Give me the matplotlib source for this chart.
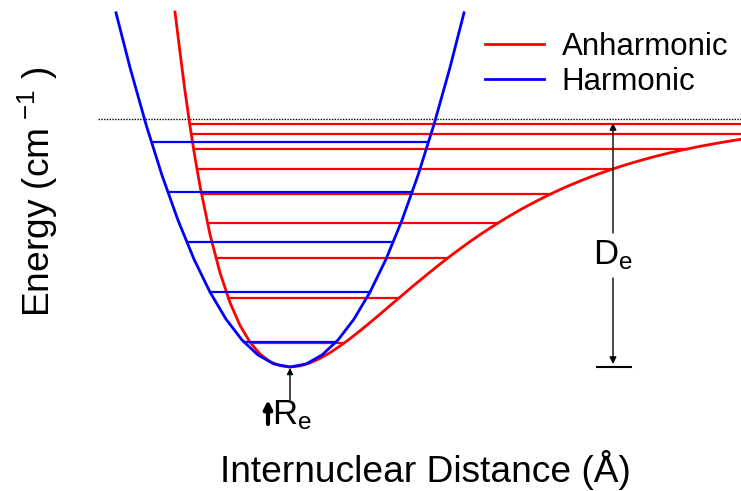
import numpy as np
import matplotlib
matplotlib.use("Agg")
import matplotlib.pyplot as plt

plt.rcParams['font.family'] = ['Liberation Sans', 'DejaVu Sans']
plt.rcParams['mathtext.fontset'] = 'custom'
plt.rcParams['mathtext.rm'] = 'Liberation Sans'
plt.rcParams['mathtext.it'] = 'Liberation Sans'

# ---- data (arbitrary units; minimum at r=290, E=0) ----
morse_r = [175, 180, 185, 190, 195, 200, 210, 220, 230, 240, 250, 260, 270, 280,
           290, 300, 310, 320, 330, 340, 350, 360, 370, 380, 390, 400, 410, 420,
           430, 440, 450, 460, 470, 480, 490, 500, 510, 520, 530, 540, 550, 560,
           570, 580, 590, 600, 610, 620, 630, 640, 650, 660, 670, 680, 690, 700,
           710, 720, 730, 741]
morse_E = [355.0, 314.8, 276.0, 241.0, 209.4, 180.9, 132.6, 94.3, 64.4, 41.6, 24.8,
           13.0, 5.4, 1.3, 0.0, 1.1, 4.1, 8.6, 14.3, 21.0, 28.3, 36.2, 44.4, 52.8,
           61.4, 69.9, 78.4, 86.7, 94.9, 102.9, 110.7, 118.1, 125.4, 132.3, 138.9,
           145.2, 151.3, 157.1, 162.5, 167.7, 172.7, 177.4, 181.8, 185.9, 189.9,
           193.6, 197.1, 200.4, 203.5, 206.4, 209.2, 211.8, 214.2, 216.5, 218.6,
           220.7, 222.5, 224.3, 226.0, 227.7]

harm_r = [116, 130, 146, 162, 178, 194, 210, 226, 242, 258, 274, 290, 306, 322,
          338, 354, 370, 386, 402, 418, 434, 450, 464]
harm_E = [354.2, 299.5, 242.6, 191.7, 146.8, 107.8, 74.9, 47.9, 27.0, 12.0, 3.0, 0.0,
          3.0, 12.0, 27.0, 47.9, 74.9, 107.8, 146.8, 191.7, 242.6, 299.5, 354.2]

anharm_levels = [24, 69, 109, 144, 173, 198, 218, 233, 243]
harm_levels = [25, 75, 125, 175, 225]
dissociation_E = 248
r_e = 290

legend_labels = ["Anharmonic", "Harmonic"]

RED = "#ff0000"
BLUE = "#0000ff"

fig = plt.figure(figsize=(7.41, 4.91), dpi=100)
ax = fig.add_axes([0, 0, 1, 1])
ax.set_xlim(0, 741)
ax.set_ylim(-124, 367)
ax.axis('off')

mr = np.array(morse_r, float); mE = np.array(morse_E, float)
hr = np.array(harm_r, float); hE = np.array(harm_E, float)
imin_m = int(np.argmin(mE)); imin_h = int(np.argmin(hE))


def turning_points(r, E, imin, level):
    left = np.interp(level, E[:imin + 1][::-1], r[:imin + 1][::-1])
    right = np.interp(level, E[imin:], r[imin:])
    return left, right

# dissociation line
ax.plot([98, 741], [dissociation_E, dissociation_E], color='black', lw=1.0,
        linestyle=(0, (1, 1)), zorder=1)

# anharmonic curve and levels
l_red, = ax.plot(mr, mE, color=RED, lw=2.0, zorder=3)
for lv in anharm_levels:
    a, b = turning_points(mr, mE, imin_m, lv)
    ax.plot([a, b], [lv, lv], color=RED, lw=1.6, zorder=2)

# harmonic curve and levels
l_blue, = ax.plot(hr, hE, color=BLUE, lw=2.0, zorder=4)
for lv in harm_levels:
    a, b = turning_points(hr, hE, imin_h, lv)
    ax.plot([a, b], [lv, lv], color=BLUE, lw=1.6, zorder=4)

# legend
ax.legend([l_red, l_blue], legend_labels, loc='upper left',
          bbox_to_anchor=(485 / 741, 1 - 32 / 491), frameon=False,
          fontsize=22.5, handlelength=1.9, handletextpad=0.55,
          labelspacing=0.15, borderpad=0, borderaxespad=0)

# D_e arrow
xD = 613
ax.annotate('', xy=(xD, 244), xytext=(xD, 134),
            arrowprops=dict(arrowstyle='-|>', color='black', lw=1.0,
                            mutation_scale=10, shrinkA=0, shrinkB=0))
ax.annotate('', xy=(xD, 3), xytext=(xD, 89),
            arrowprops=dict(arrowstyle='-|>', color='black', lw=1.0,
                            mutation_scale=10, shrinkA=0, shrinkB=0))
ax.plot([597, 631], [0, 0], color='black', lw=1.5)
ax.text(xD, 112, r'$\mathregular{D_e}$', fontsize=25, ha='center', va='center')

# R_e arrow
ax.annotate('', xy=(r_e, -1), xytext=(r_e, -33),
            arrowprops=dict(arrowstyle='-|>', color='black', lw=1.0,
                            mutation_scale=9, shrinkA=0, shrinkB=0))
ax.annotate('', xy=(268, -33), xytext=(268, -57),
            arrowprops=dict(arrowstyle='-|>', color='black', lw=3.0,
                            mutation_scale=12, shrinkA=0, shrinkB=0))
ax.text(272, -48, r'$\mathregular{R_e}$', fontsize=25, ha='left', va='center')

# axis labels
fig.text(425 / 741, 1 - 470 / 491, 'Internuclear Distance (Å)', fontsize=26.7,
         ha='center', va='center')
fig.text(38 / 741, 1 - 192 / 491, r'Energy (cm$^{\ \mathregular{-1}}$ )', fontsize=26.7,
         rotation=90, ha='center', va='center')

fig.savefig('out.png', dpi=100)
